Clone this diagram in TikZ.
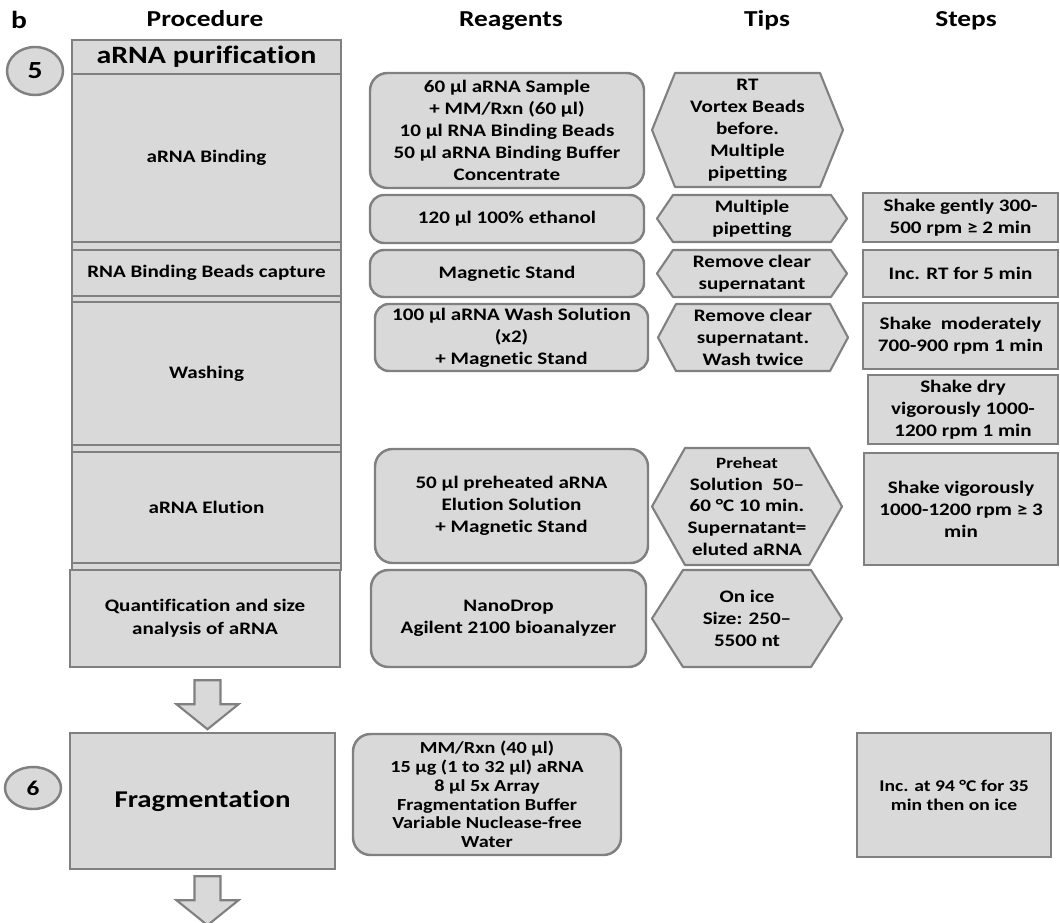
\documentclass[tikz,border=0pt]{standalone}
\usepackage{fontspec}
\setmainfont{Carlito}[FakeStretch=1.2, Ligatures=NoCommon]
\usetikzlibrary{calc,shapes.geometric}

\definecolor{boxfill}{HTML}{D9D9D9}
\definecolor{boxline}{HTML}{808080}

% one unit of the picture
\newlength{\unitpx}
\setlength{\unitpx}{0.02cm}

% hexagon behind a tip: name, x, y, half width, half height, inset, text
\newcommand{\tipbox}[7]{%
    \draw[tipline] (#2-#4,#3) -- (#2-#4+#6,#3-#5) -- (#2+#4-#6,#3-#5)
        -- (#2+#4,#3) -- (#2+#4-#6,#3+#5) -- (#2-#4+#6,#3+#5) -- cycle;
    \node[tiptext] (#1) at (#2,#3) {#7};
}

\tikzset{
    cell/.style={fill=boxfill, draw=boxline, line width=1.4pt, align=center,
        inner sep=0pt, font=\bfseries\fontsize{10}{12.5}\selectfont},
    proc/.style={cell, rectangle},
    reag/.style={cell, rounded corners=8pt},
    stepbox/.style={cell, rectangle},
    tiptext/.style={align=center, inner sep=0pt,
        font=\bfseries\fontsize{10}{12.5}\selectfont},
    tipline/.style={fill=boxfill, draw=boxline, line width=1.2pt, line join=round},
    numcirc/.style={cell, ellipse, font=\bfseries\fontsize{14}{16}\selectfont},
    colhead/.style={anchor=base, font=\bfseries\fontsize{13}{15}\selectfont},
    blockarrow/.style={fill=boxfill, draw=boxline, line width=1.2pt, line join=miter},
}

\begin{document}
\begin{tikzpicture}[x=0.02cm, y=-0.02cm]
    \useasboundingbox (0,0) rectangle (1060,922);

    \node[font=\bfseries\fontsize{14}{16}\selectfont] (panel) at (19,20) {b};
    \node[colhead] (hproc) at (205,27) {Procedure};
    \node[colhead] (hreag) at (511,27) {Reagents};
    \node[colhead] (htips) at (767,27) {Tips};
    \node[colhead] (hstep) at (966,27) {Steps};

    % procedure column
    \node[proc, minimum width=269\unitpx, minimum height=530\unitpx] (frame) at (206.5,305) {};
    \node[proc, minimum width=269\unitpx, minimum height=34\unitpx,
        font=\bfseries\fontsize{14.2}{16}\selectfont] (purif) at (206.5,57) {aRNA purification};
    \node[proc, minimum width=269\unitpx, minimum height=168\unitpx] (bind) at (206.5,158) {aRNA Binding};
    \node[proc, minimum width=269\unitpx, minimum height=46\unitpx] (beads) at (206.5,273) {RNA Binding Beads capture};
    \node[proc, minimum width=269\unitpx, minimum height=143\unitpx] (wash) at (206.5,373.5) {Washing};
    \node[proc, minimum width=269\unitpx, minimum height=111\unitpx] (elut) at (206.5,507.5) {aRNA Elution};
    \node[proc, minimum width=270\unitpx, minimum height=97\unitpx,
        font=\bfseries\fontsize{10}{13}\selectfont] (quant) at (205,618.5) {Quantification and size\\analysis of aRNA};
    \node[proc, minimum width=265\unitpx, minimum height=136\unitpx,
        font=\bfseries\fontsize{13.7}{16}\selectfont] (frag) at (202.5,801) {Fragmentation};

    \node[numcirc, minimum width=56\unitpx, minimum height=48\unitpx] (n5) at (35,71) {5};
    \node[numcirc, minimum width=56\unitpx, minimum height=42\unitpx,
        font=\bfseries\fontsize{12}{14}\selectfont] (n6) at (33,788) {6};

    % arrows down the procedure column
    \draw[blockarrow] ($(quant.south)+(-10.5,12)$) -- ++(26,0) -- ++(0,24) -- ++(18,0)
        -- ++(-31,25) -- ++(-31,-25) -- ++(18,0) -- cycle;
    \draw[blockarrow] ($(frag.south)+(-8,6)$) -- ++(26,0) -- ++(0,24) -- ++(18,0)
        -- ++(-31,25) -- ++(-31,-25) -- ++(18,0) -- cycle;

    % reagents
    \node[reag, minimum width=274\unitpx, minimum height=115\unitpx, rounded corners=10pt] (r1) at (507,130.5)
        {60 µl aRNA Sample\\+ MM/Rxn (60 µl)\\10 µl RNA Binding Beads\\50 µl aRNA Binding Buffer\\Concentrate};
    \node[reag, minimum width=274\unitpx, minimum height=48\unitpx] (r2) at (507,219) {120 µl 100\% ethanol};
    \node[reag, minimum width=274\unitpx, minimum height=47\unitpx] (r3) at (507,273.5) {Magnetic Stand};
    \node[reag, minimum width=273\unitpx, minimum height=67\unitpx] (r4) at (511.5,337.5)
        {100 µl aRNA Wash Solution\\(x2)\\+ Magnetic Stand};
    \node[reag, minimum width=273\unitpx, minimum height=114\unitpx, rounded corners=10pt] (r5) at (511.5,506)
        {50 µl preheated aRNA\\Elution Solution\\+ Magnetic Stand};
    \node[reag, minimum width=275\unitpx, minimum height=97\unitpx, rounded corners=10pt] (r6) at (508.5,618.5)
        {NanoDrop\\Agilent 2100 bioanalyzer};
    \node[reag, minimum width=268\unitpx, minimum height=121\unitpx, rounded corners=10pt,
        font=\bfseries\fontsize{9.6}{10.7}\selectfont] (r7) at (487,794.5)
        {MM/Rxn (40 µl)\\15 µg (1 to 32 µl) aRNA\\8 µl 5x Array\\Fragmentation Buffer\\Variable Nuclease-free\\Water};

    % tips
    \tipbox{t1}{747.5}{130}{95.5}{57}{23}{RT\\Vortex Beads\\before.\\Multiple\\pipetting}
    \tipbox{t2}{752}{218.5}{95}{23.5}{16}{Multiple\\pipetting}
    \tipbox{t3}{752}{273.5}{95}{23.5}{16}{Remove clear\\supernatant}
    \tipbox{t4}{753}{337.5}{95}{33.5}{18}{Remove clear\\supernatant.\\Wash twice}
    \tipbox{t5}{747}{506.5}{95}{58.5}{33}{\fontsize{9}{11.3}\selectfont Preheat\\Solution\ \ 50--\\60 °C 10 min.\\Supernatant=\\eluted aRNA}
    \tipbox{t6}{747}{618.5}{95}{48.5}{31}{On ice\\Size: 250--\\5500 nt}

    % steps
    \foreach \n/\x/\y/\w/\h/\txt in {
        s1/960.5/217.5/195/49/{Shake gently 300-\\500 rpm ≥ 2 min},
        s2/960.5/273.5/195/47/{Inc. RT for 5 min},
        s3/960.5/336/195/66/{Shake\ \ moderately\\700-900 rpm 1 min},
        s4/963/409.5/190/69/{Shake dry\\vigorously 1000-\\1200 rpm 1 min},
        s5/961/509/194/112/{Shake vigorously\\1000-1200 rpm ≥ 3\\min}}
        \node[stepbox, minimum width=\w\unitpx, minimum height=\h\unitpx] (\n) at (\x,\y) {\txt};
    \node[stepbox, minimum width=194\unitpx, minimum height=124\unitpx,
        font=\bfseries\fontsize{9.3}{10.8}\selectfont] (s6) at (954,795) {Inc. at 94 °C for 35\\min then on ice};
\end{tikzpicture}
\end{document}
